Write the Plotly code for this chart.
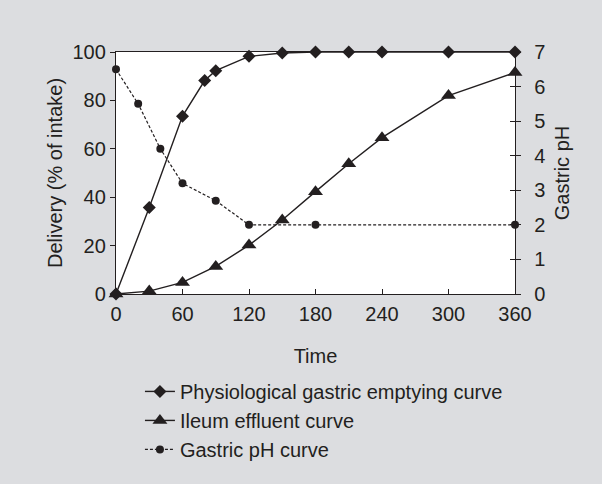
import plotly.graph_objects as go

# Data
time_emptying = [0, 30, 60, 80, 90, 120, 150, 180, 210, 240, 300, 360]
emptying = [0, 35.7, 73.5, 88.2, 92.3, 98.2, 99.6, 100, 100, 100, 100, 100]

time_ileum = [0, 30, 60, 90, 120, 150, 180, 210, 240, 300, 360]
ileum = [0, 1.2, 4.8, 11.4, 20.2, 30.6, 42.3, 53.8, 64.6, 82.0, 91.5]

time_ph = [0, 20, 40, 60, 90, 120, 180, 360]
ph = [6.5, 5.5, 4.2, 3.2, 2.7, 2.0, 2.0, 2.0]

x_ticks = [0, 60, 120, 180, 240, 300, 360]
font_family = "Liberation Sans, Arial, sans-serif"
ink = "#231f20"

fig = go.Figure()
fig.add_trace(go.Scatter(
    x=time_emptying, y=emptying, mode="lines+markers",
    name="Physiological gastric emptying curve",
    line=dict(color=ink, width=1.4),
    marker=dict(symbol="diamond", size=10, color=ink),
    cliponaxis=False,
))
fig.add_trace(go.Scatter(
    x=time_ileum, y=ileum, mode="lines+markers",
    name="Ileum effluent curve",
    line=dict(color=ink, width=1.4),
    marker=dict(symbol="triangle-up", size=13, color=ink),
    cliponaxis=False,
))
fig.add_trace(go.Scatter(
    x=time_ph, y=ph, mode="lines+markers",
    name="Gastric pH curve", yaxis="y2",
    line=dict(color=ink, width=1.2, dash="3px,2px"),
    marker=dict(symbol="circle", size=8, color=ink),
    cliponaxis=False,
))
# invisible helper trace to show inward ticks on the right axis
fig.add_trace(go.Scatter(x=[0], y=[0], yaxis="y3", mode="markers",
                         marker=dict(opacity=0), showlegend=False, hoverinfo="skip"))

fig.update_layout(
    width=602, height=484,
    margin=dict(l=116, r=87, t=52, b=190),
    paper_bgcolor="#dcdde0",
    plot_bgcolor="white",
    font=dict(family=font_family, size=20, color=ink),
    showlegend=True,
    legend=dict(
        x=0.06, y=-0.322, xanchor="left", yanchor="top",
        bgcolor="rgba(0,0,0,0)", font=dict(size=20),
        tracegroupgap=0, itemwidth=30,
    ),
    xaxis=dict(
        range=[0, 360], tickvals=x_ticks, ticks="inside", ticklen=5,
        tickcolor=ink, showline=True, linecolor=ink, linewidth=1.4,
        mirror=True, showgrid=False, zeroline=False, automargin=False,
        ticklabelstandoff=2,
        title=dict(text="Time", standoff=24, font=dict(size=20)),
    ),
    yaxis=dict(
        range=[0, 100], dtick=20, ticks="outside", ticklen=5,
        tickcolor=ink, showline=True, linecolor=ink, linewidth=1.4,
        showgrid=False, zeroline=False, automargin=False,
        title=dict(text="Delivery (% of intake)", standoff=4, font=dict(size=20)),
    ),
    yaxis2=dict(
        range=[0, 7], dtick=1, ticks="outside", ticklen=5,
        tickcolor=ink, showline=True, linecolor=ink, linewidth=1.4,
        overlaying="y", side="right", showgrid=False, zeroline=False,
        automargin=False, ticklabelstandoff=9,
        title=dict(text="Gastric pH", standoff=10, font=dict(size=20)),
    ),
    yaxis3=dict(
        range=[0, 7], dtick=1, ticks="inside", ticklen=5, tickcolor=ink,
        overlaying="y", side="right", showgrid=False, zeroline=False,
        showticklabels=False, showline=False, automargin=False,
    ),
)

fig.write_html("out.html", config={"displayModeBar": False},
               post_script="document.body.style.margin='0';")
